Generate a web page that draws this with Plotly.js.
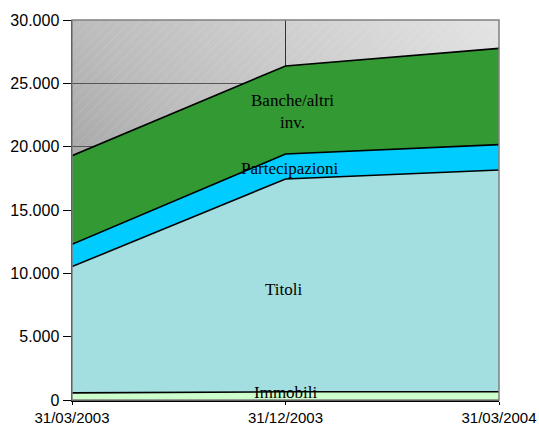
<!DOCTYPE html>
<html>
<head>
<meta charset="utf-8">
<script src="https://cdn.plot.ly/plotly-3.0.1.min.js"></script>
<style>html,body{margin:0;padding:0;background:#fff;}#chart{width:539px;height:427px;}</style>
</head>
<body>
<div id="chart"></div>
<script>
// Data
const categories = ["31/03/2003", "31/12/2003", "31/03/2004"];
const immobili = [560, 650, 650];
const titoli = [9970, 16800, 17510];
const partecipazioni = [1760, 1970, 2000];
const banche = [7000, 6950, 7600];
const seriesNames = ["Immobili", "Titoli", "Partecipazioni", "Banche/altri inv."];
const seriesColors = ["#ccffcc", "#a3dfe0", "#00ccff", "#339933"];
const yTicks = [0, 5000, 10000, 15000, 20000, 25000, 30000];

const seriesValues = [immobili, titoli, partecipazioni, banche];
const traces = seriesValues.map((vals, i) => ({
  type: "scatter",
  mode: "lines",
  x: categories,
  y: vals,
  name: seriesNames[i],
  stackgroup: "one",
  fillcolor: seriesColors[i],
  line: {color: "#000000", width: 1.6},
  hoverinfo: "x+y+name"
}));

// Background: diagonal gray gradient with light hatch
const bgSvg = '<svg xmlns="http://www.w3.org/2000/svg" width="427" height="380" viewBox="0 0 427 380">' +
  '<defs><linearGradient id="g" x1="0" y1="1" x2="1" y2="0">' +
  '<stop offset="0" stop-color="#858585"/><stop offset="0.5" stop-color="#bcbcbc"/><stop offset="1" stop-color="#e4e4e4"/></linearGradient>' +
  '<pattern id="p" width="7" height="7" patternUnits="userSpaceOnUse" patternTransform="rotate(45)">' +
  '<line x1="0" y1="0" x2="0" y2="7" stroke="#ffffff" stroke-opacity="0.25" stroke-width="1.2" stroke-dasharray="1.5,1"/></pattern></defs>' +
  '<rect width="427" height="380" fill="url(#g)"/><rect width="427" height="380" fill="url(#p)"/></svg>';
const bgUrl = "data:image/svg+xml;charset=utf-8," + encodeURIComponent(bgSvg);

const serif = "Liberation Serif, Times New Roman, serif";
const sans = "Liberation Sans, Arial, sans-serif";
const annFont = {family: serif, size: 17, color: "#000000"};

const layout = {
  width: 539,
  height: 427,
  margin: {l: 72, r: 40, t: 20, b: 27},
  paper_bgcolor: "#ffffff",
  plot_bgcolor: "#c0c0c0",
  showlegend: false,
  separators: ",.",
  font: {family: sans, size: 16, color: "#000000"},
  xaxis: {
    type: "category",
    range: [0, 2],
    showgrid: true,
    gridcolor: "#333333",
    gridwidth: 1,
    showline: true,
    linecolor: "#000000",
    linewidth: 1.5,
    ticks: "outside",
    ticklen: 3,
    tickcolor: "#000000",
    tickfont: {family: sans, size: 15, color: "#000000"},
    fixedrange: true,
    zeroline: false
  },
  yaxis: {
    range: [0, 30000],
    tickvals: yTicks,
    tickformat: ",d",
    showgrid: true,
    gridcolor: "#555555",
    gridwidth: 1,
    showline: true,
    linecolor: "#000000",
    linewidth: 1.5,
    ticks: "outside",
    ticklen: 8,
    tickcolor: "#000000",
    tickfont: {family: sans, size: 16, color: "#000000"},
    zeroline: false,
    fixedrange: true
  },
  images: [{
    source: bgUrl,
    xref: "paper", yref: "paper",
    x: 0, y: 1, sizex: 1, sizey: 1,
    xanchor: "left", yanchor: "top",
    sizing: "stretch",
    layer: "below"
  }],
  shapes: [{
    type: "rect", xref: "paper", yref: "paper",
    x0: 0, x1: 1, y0: 0, y1: 1,
    line: {color: "#808080", width: 1.5},
    fillcolor: "rgba(0,0,0,0)",
    layer: "above"
  }],
  annotations: [
    {x: 1.033, y: 22750, xref: "x", yref: "y", text: "Banche/altri<br>inv.", showarrow: false, font: annFont, align: "center"},
    {x: 1.02, y: 18300, xref: "x", yref: "y", text: "Partecipazioni", showarrow: false, font: annFont},
    {x: 0.99, y: 8700, xref: "x", yref: "y", text: "Titoli", showarrow: false, font: annFont},
    {x: 1.003, y: 560, xref: "x", yref: "y", text: "Immobili", showarrow: false, font: annFont}
  ]
};

Plotly.newPlot("chart", traces, layout, {displayModeBar: false, staticPlot: true});
</script>
</body>
</html>
